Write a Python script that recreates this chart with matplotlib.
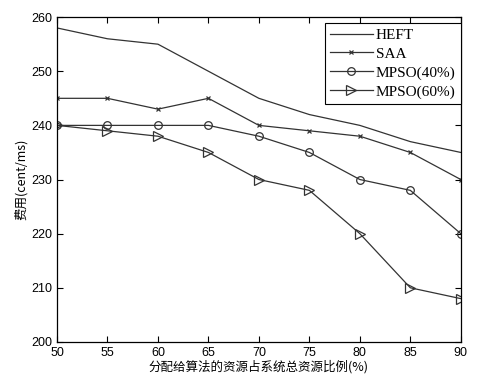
import matplotlib
matplotlib.use("Agg")
import matplotlib.pyplot as plt

plt.rcParams["font.family"] = ["Liberation Sans", "Noto Sans CJK SC", "DejaVu Sans"]

ratio = [50, 55, 60, 65, 70, 75, 80, 85, 90]
heft = [258, 256, 255, 250, 245, 242, 240, 237, 235]
saa = [245, 245, 243, 245, 240, 239, 238, 235, 230]
mpso40 = [240, 240, 240, 240, 238, 235, 230, 228, 220]
mpso60 = [240, 239, 238, 235, 230, 228, 220, 210, 208]

fig = plt.figure(figsize=(4.81, 3.89), dpi=100)
ax = fig.add_axes([0.1185, 0.121, 0.8395, 0.835])

lc = "#333333"
ax.plot(ratio, heft, color=lc, lw=0.9, label="HEFT")
ax.plot(ratio, saa, color=lc, lw=0.9, marker="x", ms=3.5, mew=0.9, label="SAA")
ax.plot(ratio, mpso40, color=lc, lw=0.9, marker="o", ms=5.5, mfc="none", mew=0.9, label="MPSO(40%)")
ax.plot(ratio, mpso60, color=lc, lw=0.9, marker=">", ms=6.5, mfc="none", mew=0.9, label="MPSO(60%)")

ax.set_xlim(50, 90)
ax.set_ylim(200, 260)
ax.set_xticks(ratio)
ax.set_yticks(range(200, 261, 10))
ax.tick_params(direction="in", top=True, right=True, labelsize=9, length=4, width=0.8)
for s in ax.spines.values():
    s.set_linewidth(0.9)

ax.set_xlabel("分配给算法的资源占系统总资源比例(%)", fontsize=9, labelpad=1,
              family=["Noto Sans CJK SC", "DejaVu Sans"])
ax.set_ylabel("费用(cent/ms)", fontsize=9, labelpad=2,
              family=["Noto Sans CJK SC", "DejaVu Sans"])

leg = ax.legend(loc="upper right", bbox_to_anchor=(1.0, 0.982), borderaxespad=0,
                fancybox=False, edgecolor="black", framealpha=1,
                prop={"family": "Liberation Serif", "size": 11},
                handlelength=2.8, borderpad=0.35, labelspacing=0.33, handletextpad=0.2)
leg.get_frame().set_linewidth(0.8)

fig.savefig("out.png", dpi=100)
